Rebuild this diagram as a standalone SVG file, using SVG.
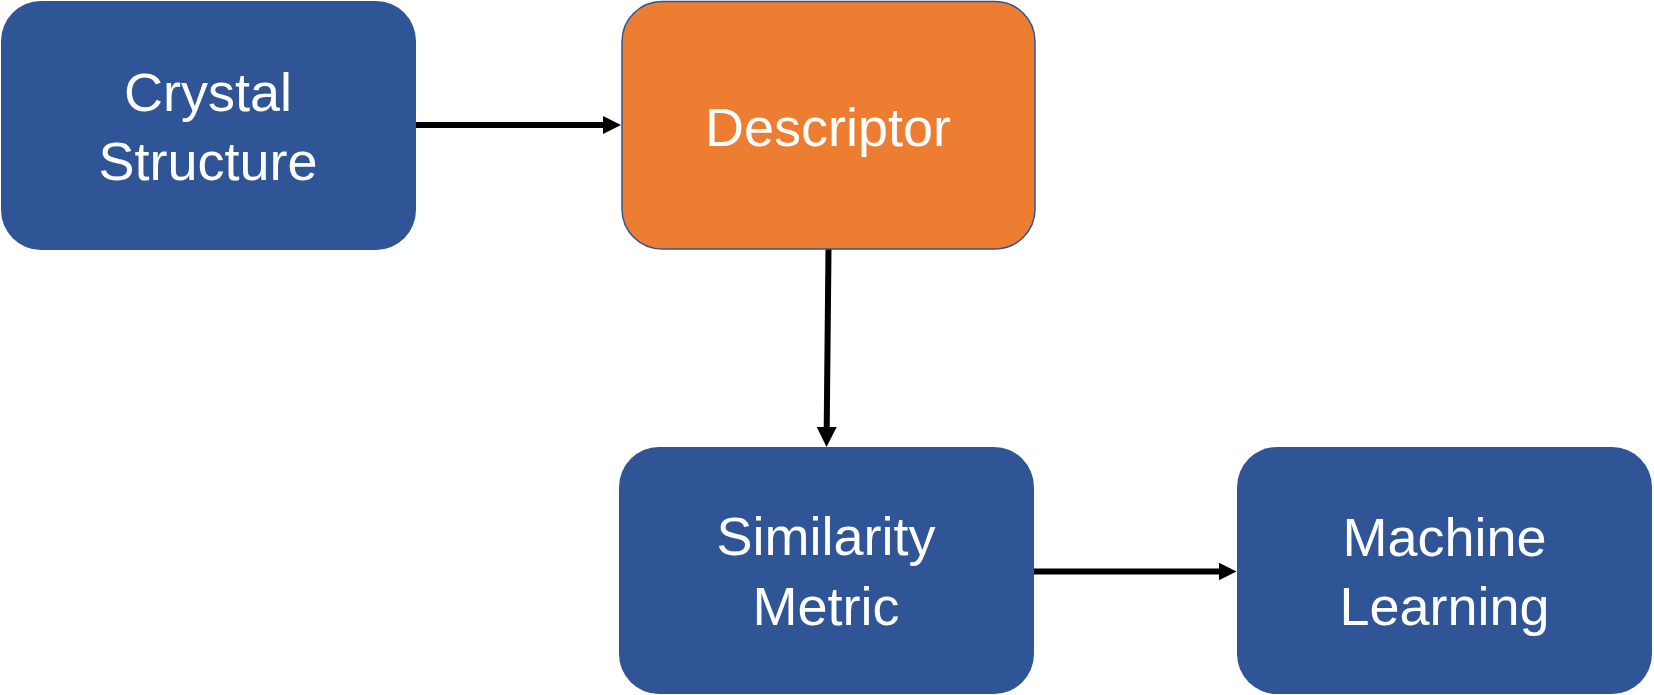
<svg xmlns="http://www.w3.org/2000/svg" width="1654" height="695" viewBox="0 0 1654 695">
<style>
.blue{fill:#2F5597;}
.orange{fill:#ED7D31;stroke:#2F5597;stroke-width:1.5;}
.lbl{font-family:"Liberation Sans",Arial,sans-serif;font-size:54px;fill:#FFFFFF;text-anchor:middle;}
.edge{stroke:#000000;stroke-width:6;fill:none;}
</style>
<defs>
<marker id="ah" markerUnits="userSpaceOnUse" markerWidth="18" markerHeight="18" viewBox="0 0 18 18" refX="1" refY="9" orient="auto">
<polygon points="0,0 18,9 0,18" fill="#000000"/>
</marker>
<marker id="ahL" markerUnits="userSpaceOnUse" markerWidth="20" markerHeight="20" viewBox="0 0 20 20" refX="1" refY="10" orient="auto">
<polygon points="0,0 20,10 0,20" fill="#000000"/>
</marker>
</defs>
<g id="connectors">
<line class="edge" x1="416" y1="125" x2="604" y2="125" marker-end="url(#ah)"/>
<line class="edge" x1="828.5" y1="249" x2="826.7" y2="428" marker-end="url(#ahL)"/>
<line class="edge" x1="1034" y1="571.5" x2="1219.5" y2="571.5" marker-end="url(#ah)"/>
</g>
<g id="crystal-structure">
<rect class="blue" x="1" y="1" width="415" height="249" rx="40" ry="40"/>
<text class="lbl" x="208" y="111">Crystal</text>
<text class="lbl" x="208" y="180">Structure</text>
</g>
<g id="descriptor">
<rect class="orange" x="622" y="1.5" width="413" height="247.5" rx="40" ry="40"/>
<text class="lbl" x="828" y="146">Descriptor</text>
</g>
<g id="similarity-metric">
<rect class="blue" x="619" y="447" width="415" height="247" rx="40" ry="40"/>
<text class="lbl" x="826" y="555">Similarity</text>
<text class="lbl" x="826" y="625">Metric</text>
</g>
<g id="machine-learning">
<rect class="blue" x="1237" y="447" width="415" height="247" rx="40" ry="40"/>
<text class="lbl" x="1444.5" y="556">Machine</text>
<text class="lbl" x="1444.5" y="625">Learning</text>
</g>
</svg>
